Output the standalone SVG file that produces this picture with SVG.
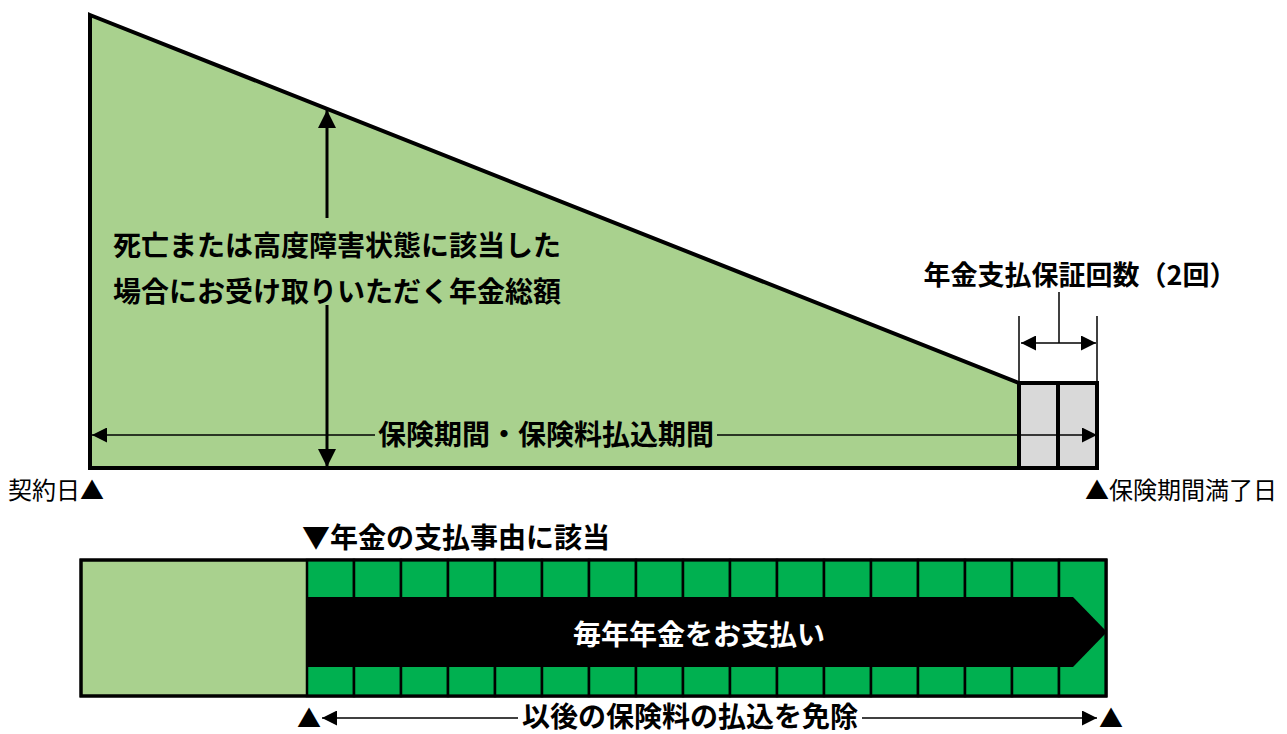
<svg xmlns="http://www.w3.org/2000/svg" width="1287" height="734" viewBox="0 0 1287 734">
<style>
.jp{font-family:"Noto Sans CJK JP","Liberation Sans",sans-serif;}
.b{font-weight:bold;fill:#000;}
.n{font-weight:normal;fill:#000;}
.thin{stroke:#000;stroke-width:1.5;fill:none;}
.thick{stroke:#000;stroke-width:3;fill:none;}
.cell{fill:#00B050;stroke:#000;stroke-width:2.5;}
</style>
<defs>
<marker id="ahs" viewBox="0 0 10 10" refX="10" refY="5" markerWidth="15" markerHeight="15" markerUnits="userSpaceOnUse" orient="auto-start-reverse">
<path d="M0,0 L10,5 L0,10 z" fill="#000"/>
</marker>
<marker id="ahb" viewBox="0 0 10 10" refX="10" refY="5" markerWidth="6" markerHeight="6" orient="auto-start-reverse">
<path d="M0,0 L10,5 L0,10 z" fill="#000"/>
</marker>
</defs>
<rect width="1287" height="734" fill="#fff"/>

<g id="main-area">
<polygon points="90,15 1019,383 1019,468 90,468" fill="#A9D18E" stroke="#000" stroke-width="4" stroke-linejoin="miter"/>
</g>
<g id="guarantee-boxes">
<rect x="1019" y="383" width="39" height="85" fill="#D9D9D9" stroke="#000" stroke-width="4"/>
<rect x="1058" y="383" width="39" height="85" fill="#D9D9D9" stroke="#000" stroke-width="4"/>
</g>

<g id="connectors">
<line class="thin" x1="375" y1="435" x2="92" y2="435" marker-end="url(#ahs)"/>
<line class="thin" x1="717" y1="435" x2="1097" y2="435" marker-end="url(#ahs)"/>
<line class="thick" x1="327" y1="218" x2="327" y2="110" marker-end="url(#ahb)"/>
<line class="thick" x1="327" y1="305" x2="327" y2="467" marker-end="url(#ahb)"/>
<line class="thin" x1="1019" y1="316" x2="1019" y2="383"/>
<line class="thin" x1="1097" y1="316" x2="1097" y2="383"/>
<line class="thin" x1="1021" y1="343" x2="1096" y2="343" marker-start="url(#ahs)" marker-end="url(#ahs)"/>
<line class="thin" x1="1059" y1="292" x2="1059" y2="343"/>
<line class="thin" x1="518" y1="718" x2="322" y2="718" marker-end="url(#ahs)"/>
<line class="thin" x1="862" y1="718" x2="1097" y2="718" marker-end="url(#ahs)"/>
</g>

<g id="total-label">
<text class="jp b" x="113" y="256" font-size="28">死亡または高度障害状態に該当した</text>
<text class="jp b" x="113" y="302" font-size="28">場合にお受け取りいただく年金総額</text>
</g>
<g id="period-label">
<text class="jp b" x="546" y="445" font-size="28" text-anchor="middle">保険期間・保険料払込期間</text>
</g>
<g id="guarantee-label">
<text class="jp b" x="1080" y="285" font-size="27" text-anchor="middle">年金支払保証回数（2回）</text>
</g>
<g id="start-label">
<text class="jp n" x="8" y="499" font-size="24">契約日▲</text>
</g>
<g id="end-label">
<text class="jp n" x="1085" y="499" font-size="24">▲保険期間満了日</text>
</g>
<g id="event-label">
<text class="jp b" x="302" y="548" font-size="28">▼年金の支払事由に該当</text>
</g>

<g id="payment-bar">
<rect x="81" y="560" width="1025" height="136" fill="#A9D18E" stroke="#000" stroke-width="3"/>
<g id="cells">
<rect class="cell" x="307" y="560" width="47" height="136"/>
<rect class="cell" x="354" y="560" width="47" height="136"/>
<rect class="cell" x="401" y="560" width="47" height="136"/>
<rect class="cell" x="448" y="560" width="47" height="136"/>
<rect class="cell" x="495" y="560" width="47" height="136"/>
<rect class="cell" x="542" y="560" width="47" height="136"/>
<rect class="cell" x="589" y="560" width="47" height="136"/>
<rect class="cell" x="636" y="560" width="47" height="136"/>
<rect class="cell" x="683" y="560" width="47" height="136"/>
<rect class="cell" x="730" y="560" width="47" height="136"/>
<rect class="cell" x="777" y="560" width="47" height="136"/>
<rect class="cell" x="824" y="560" width="47" height="136"/>
<rect class="cell" x="871" y="560" width="47" height="136"/>
<rect class="cell" x="918" y="560" width="47" height="136"/>
<rect class="cell" x="965" y="560" width="47" height="136"/>
<rect class="cell" x="1012" y="560" width="47" height="136"/>
<rect class="cell" x="1059" y="560" width="47" height="136"/>
</g>
<rect x="81" y="560" width="1025" height="136" fill="none" stroke="#000" stroke-width="3"/>
<polygon points="307,597 1073,597 1107,632 1073,667 307,667" fill="#000"/>
<text class="jp" x="699" y="645" font-size="28" font-weight="bold" fill="#fff" text-anchor="middle">毎年年金をお支払い</text>
</g>

<g id="waiver-label">
<text class="jp n" x="297" y="727" font-size="24">▲</text>
<text class="jp n" x="1099" y="727" font-size="24">▲</text>
<text class="jp b" x="690" y="727" font-size="28" text-anchor="middle">以後の保険料の払込を免除</text>
</g>
</svg>
